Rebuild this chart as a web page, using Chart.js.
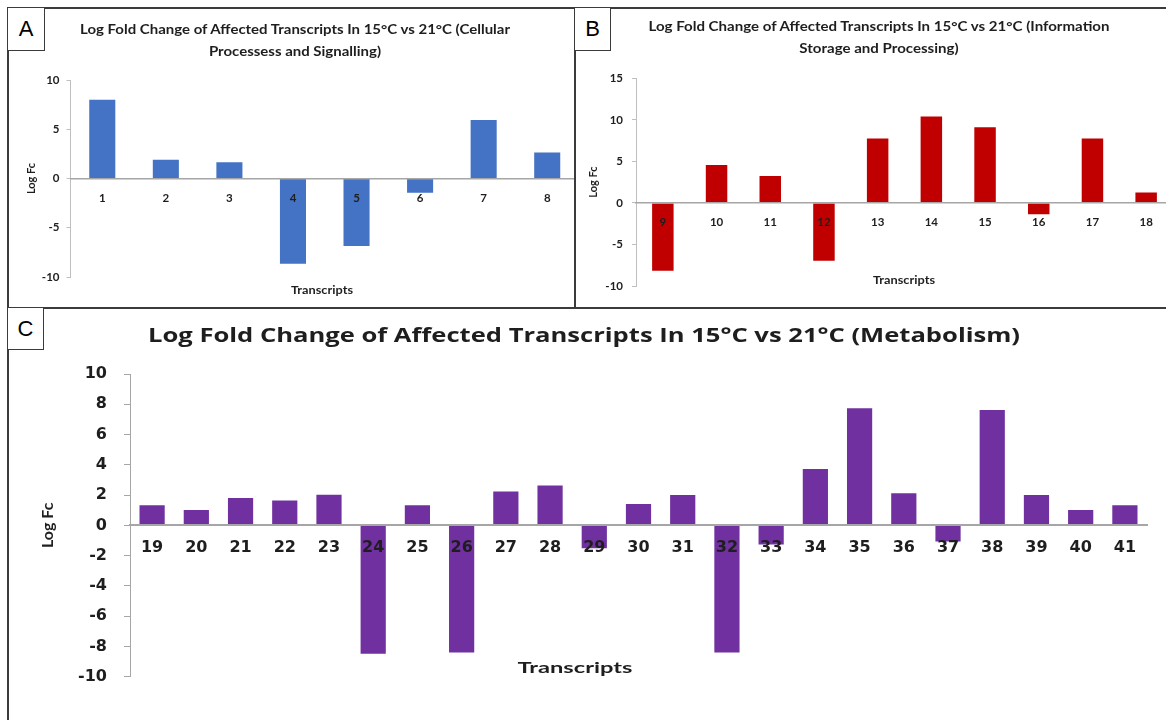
<!DOCTYPE html>
<html>
<head>
<meta charset="utf-8">
<title>Log fold change of affected transcripts, 15°C vs 21°C</title>
<script src="https://cdn.jsdelivr.net/npm/chart.js@4.4.1/dist/chart.umd.min.js"></script>
<style>
  body { margin: 0; background: #fff; }
  #fig { position: relative; width: 1166px; height: 720px; overflow: hidden; background: #fff; }
  .clip { position: absolute; overflow: hidden; }
  .clip canvas { position: absolute; }
  .frame { position: absolute; box-sizing: border-box; border: 2px solid #3b3b3b; }
  .tag { position: absolute; box-sizing: border-box; border: 1.5px solid #3b3b3b; background: #fff;
         font: 22px "Liberation Sans", Arial, sans-serif; color: #000;
         display: flex; align-items: center; justify-content: center; }
  .txt { position: absolute; white-space: nowrap; transform: translate(-50%, -50%);
         color: #1e1e1e; font-weight: 700; text-align: center; }
</style>
</head>
<body>
<div id="fig">
  <div class="clip" style="left:9px;top:9px;width:565px;height:298px">
    <canvas id="chartA" width="600" height="308" style="left:-9px;top:-9px"></canvas>
  </div>
  <div class="clip" style="left:576px;top:9px;width:590px;height:298px">
    <canvas id="chartB" width="620" height="308" style="left:-1px;top:-9px"></canvas>
  </div>
  <div class="clip" style="left:9px;top:309px;width:1157px;height:411px">
    <canvas id="chartC" width="1166" height="412" style="left:-9px;top:-1px"></canvas>
  </div>

  <div class="frame" style="left:7px;top:7px;width:569px;height:302px"></div>
  <div class="frame" style="left:574px;top:7px;width:600px;height:302px"></div>
  <div class="frame" style="left:7px;top:307px;width:1170px;height:420px"></div>

  <div class="tag" style="left:7px;top:7px;width:38px;height:44px">A</div>
  <div class="tag" style="left:574px;top:7px;width:37px;height:44px">B</div>
  <div class="tag" style="left:7px;top:307px;width:37px;height:43px">C</div>

  <div class="txt" data-w="430" style="left:295px;top:41px;font:700 12.5px Lato;line-height:22px">Log Fold Change of Affected Transcripts In 15°C vs 21°C (Cellular<br>Processess and Signalling)</div>
  <div class="txt" data-w="461" style="left:879px;top:38px;font:700 12.5px Lato;line-height:22px">Log Fold Change of Affected Transcripts In 15°C vs 21°C (Information<br>Storage and Processing)</div>
  <div class="txt" data-w="872" style="left:584px;top:334px;font:700 20px 'Open Sans'">Log Fold Change of Affected Transcripts In 15°C vs 21°C (Metabolism)</div>

  <div class="txt" data-w="62" style="left:322px;top:289px;font:700 11.5px Lato">Transcripts</div>
  <div class="txt" data-w="62" style="left:904px;top:279px;font:700 11.5px Lato">Transcripts</div>
  <div class="txt" data-w="115" style="left:575px;top:666px;font:700 16px Lato">Transcripts</div>
</div>

<script>
// panel A: cellular processes and signalling
const catsA = ['1', '2', '3', '4', '5', '6', '7', '8'];
const logFcA = [8.0, 1.9, 1.65, -8.65, -6.85, -1.45, 5.95, 2.65];
const yTicksA = [-10, -5, 0, 5, 10];

// panel B: information storage and processing
const catsB = ['9', '10', '11', '12', '13', '14', '15', '16', '17', '18'];
const logFcB = [-8.15, 4.55, 3.25, -6.95, 7.75, 10.4, 9.1, -1.35, 7.75, 1.25];
const yTicksB = [-10, -5, 0, 5, 10, 15];

// panel C: metabolism
const catsC = ['19', '20', '21', '22', '23', '24', '25', '26', '27', '28', '29', '30',
               '31', '32', '33', '34', '35', '36', '37', '38', '39', '40', '41'];
const logFcC = [1.33, 1.02, 1.81, 1.64, 2.03, -8.49, 1.33, -8.4, 2.23, 2.63, -1.52, 1.41,
                2.01, -8.4, -1.26, 3.73, 7.73, 2.12, -1.06, 7.62, 2.01, 1.02, 1.33];
const yTicksC = [-10, -8, -6, -4, -2, 0, 2, 4, 6, 8, 10];

const ink = '#1e1e1e';

function logFcChart(canvasId, cats, vals, yTicks, color, s) {
  return new Chart(document.getElementById(canvasId), {
    type: 'bar',
    data: {
      labels: cats,
      datasets: [{ data: vals, backgroundColor: color, barPercentage: s.bar, categoryPercentage: 1 }]
    },
    options: {
      responsive: false,
      animation: false,
      layout: { padding: { left: 0, top: s.top, right: s.right, bottom: s.bottom } },
      plugins: { legend: { display: false }, tooltip: { enabled: false } },
      scales: {
        x: {
          position: { y: 0 },
          grid: { display: false, drawTicks: false },
          border: { display: true, color: '#a6a6a6', width: s.zeroWidth, z: 1 },
          ticks: { z: 1, padding: s.xPad, color: ink, font: s.xFont, maxRotation: 0, autoSkip: false }
        },
        y: {
          min: yTicks[0],
          max: yTicks[yTicks.length - 1],
          afterFit: (scale) => { scale.width = s.yWidth; },
          afterBuildTicks: (scale) => { scale.ticks = yTicks.map(v => ({ value: v })); },
          grid: { drawOnChartArea: false, tickLength: s.tick, color: s.axisColor },
          border: { color: s.axisColor },
          ticks: { padding: s.yPad, color: ink, font: s.yFont },
          title: {
            display: true, text: 'Log Fc', color: ink, font: s.titleFont,
            padding: { top: s.titlePad, bottom: 0 }
          }
        }
      }
    }
  });
}

const small = { family: 'Lato', weight: 'bold', size: 11.5 };

logFcChart('chartA', catsA, logFcA, yTicksA, '#4472C4', {
  top: 80, bottom: 31, right: 21, yWidth: 70.5, bar: 0.41, tick: 4, yPad: 7,
  titlePad: 25, xPad: 13, xFont: small, yFont: small,
  titleFont: { family: 'Lato', weight: 'bold', size: 11 }, axisColor: '#bfbfbf', zeroWidth: 1.5
});

logFcChart('chartB', catsB, logFcB, yTicksB, '#C00000', {
  top: 78.3, bottom: 22, right: 22, yWidth: 61, bar: 0.4, tick: 4, yPad: 9,
  titlePad: 11.4, xPad: 12, xFont: small, yFont: small,
  titleFont: { family: 'Lato', weight: 'bold', size: 11 }, axisColor: '#bfbfbf', zeroWidth: 1.5
});

const big = { family: 'DejaVu Sans', weight: 'bold', size: 16 };
logFcChart('chartC', catsC, logFcC, yTicksC, '#7030A0', {
  top: 66, bottom: 43.3, right: 19, yWidth: 130, bar: 0.57, tick: 6, yPad: 17,
  titlePad: 38, xPad: 13, xFont: big, yFont: big,
  titleFont: { family: 'Lato', weight: 'bold', size: 16 }, axisColor: '#a6a6a6', zeroWidth: 2
});

// the source figure is stretched sideways; match the text widths
document.querySelectorAll('.txt').forEach(el => {
  const k = Number(el.dataset.w) / el.getBoundingClientRect().width;
  el.style.transform = `translate(-50%, -50%) scaleX(${k})`;
});
</script>
</body>
</html>
